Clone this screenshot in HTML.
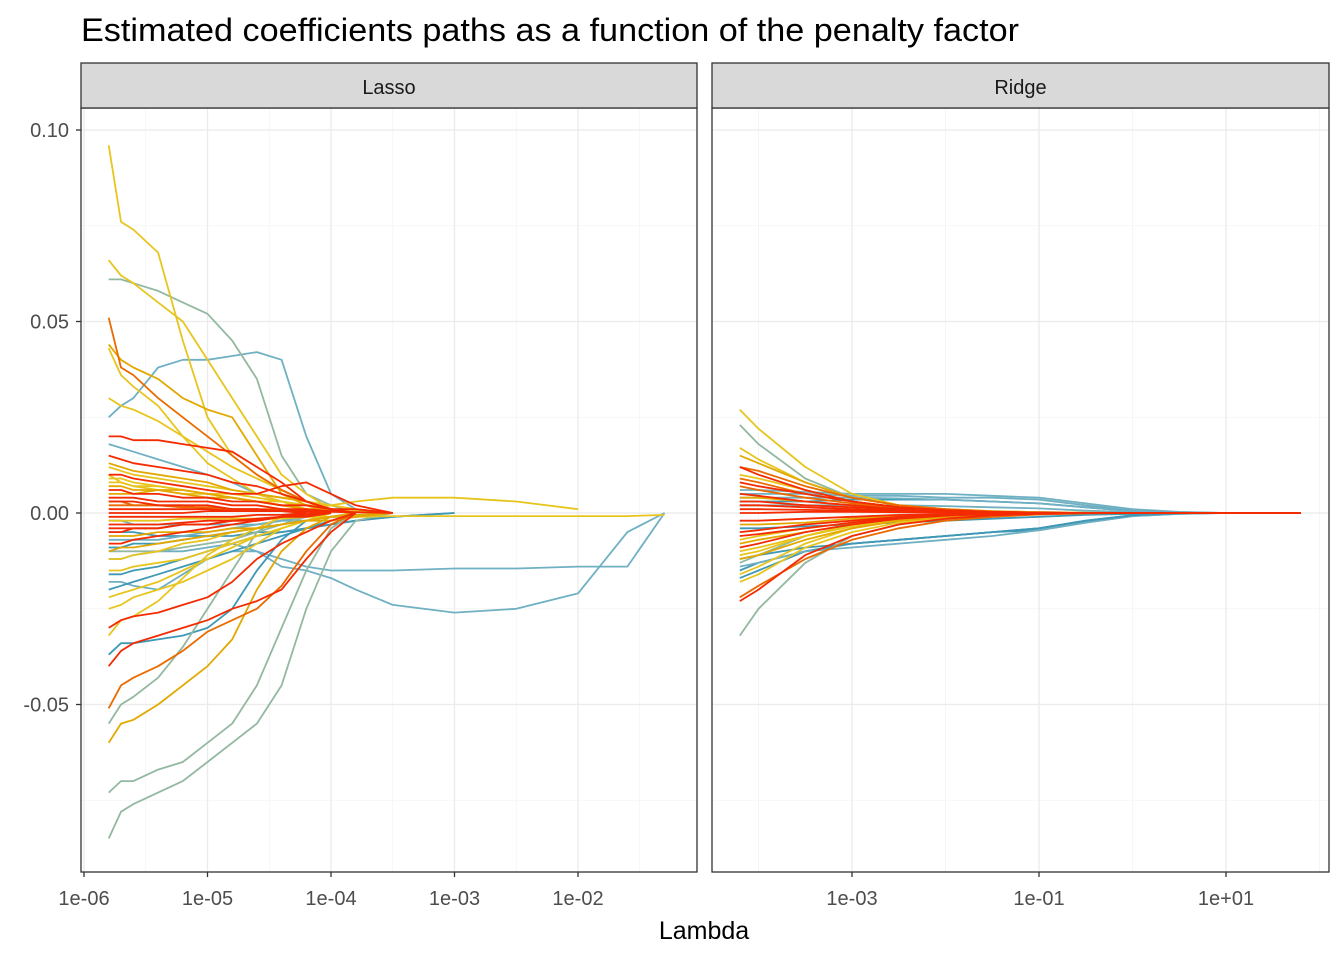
<!DOCTYPE html>
<html><head><meta charset="utf-8"><style>
body{margin:0;background:#fff;font-family:"Liberation Sans",Arial,sans-serif}
svg{display:block}
</style></head><body>
<svg id="chart" width="1344" height="960" xmlns="http://www.w3.org/2000/svg">
<rect width="1344" height="960" fill="#fff"/>
<text x="81" y="41" font-size="32" textLength="938" lengthAdjust="spacingAndGlyphs" fill="#000">Estimated coefficients paths as a function of the penalty factor</text>
<g id="lasso"></g>
<g id="ridge"></g>
<text x="704" y="939" font-size="25" text-anchor="middle" fill="#000">Lambda</text>
</svg>
<script>
// ---- data ----
const lassoLogLambda=[-5.8,-5.7,-5.6,-5.4,-5.2,-5,-4.8,-4.6,-4.4,-4.2,-4,-3.8,-3.5,-3,-2.5,-2,-1.6,-1.3];
const ridgeLogLambda=[-4.2,-4,-3.5,-3,-2.5,-2,-1.5,-1,-0.5,0,0.5,1,1.4,1.8];
const yTicks=[0.10,0.05,0.00,-0.05];
const yTickLabels=["0.10","0.05","0.00","-0.05"];
const lassoXTicks=[-6,-5,-4,-3,-2];
const lassoXLabels=["1e-06","1e-05","1e-04","1e-03","1e-02"];
const ridgeXTicks=[-3,-1,1];
const ridgeXLabels=["1e-03","1e-01","1e+01"];
// colour codes: B blue, L light blue, G grey-green, Y yellow, O gold, R orange, X red
const lassoColors=["Y","Y","G","L","R","L","L","Y","Y","G","G","O","R","X","B","Y","G","Y","O",
"X","X","X","X","X","X","X","X","Y","Y","O","O","Y","B","B","L","G","Y","O","R","Y","B","Y","X","X","L","O",
"X","X","X","Y","Y","O","L","B","X","R"];
// values in thousandths
const lassoValues=[
[96,76,74,68,45,25,15,10,6,3,1,0],
[66,62,60,55,50,40,30,20,10,5,1,0],
[61,61,60,58,55,52,45,35,15,5,2,0],
[25,28,30,38,40,40,41,42,40,20,5,1,0],
[51,38,36,30,25,20,15,10,6,3,1,0],
[-12,-12,-11,-10,-10,-9,-8,-10,-12,-14,-15,-15,-15,-14.5,-14.5,-14,-14,0],
[-18,-18,-19,-20,-16,-12,-10,-10,-14,-15,-17,-20,-24,-26,-25,-21,-5,0],
[10,8,7,6,5,5,4,3,3,2,2,3,4,4,3,1],
[-2,-2,-2,-2,-1.5,-1.5,-1.5,-1.5,-1.5,-1,-1,-1,-0.8,-0.8,-0.8,-0.8,-0.8,-0.5],
[-85,-78,-76,-73,-70,-65,-60,-55,-45,-25,-10,-2,0],
[-73,-70,-70,-67,-65,-60,-55,-45,-30,-15,-4,0],
[-60,-55,-54,-50,-45,-40,-33,-20,-10,-4,-1,0],
[-51,-45,-43,-40,-36,-31,-28,-25,-19,-10,-3,0],
[-40,-36,-34,-32,-30,-28,-25,-23,-20,-12,-5,0],
[-37,-34,-34,-33,-32,-30,-25,-15,-7,-2,0],
[-32,-28,-27,-23,-17,-11,-7,-4,-1,0],
[-55,-50,-48,-43,-35,-25,-15,-5,-1,0],
[43,36,33,28,20,13,9,5,3,1,0],
[44,40,38,35,30,27,25,15,5,2,0],
[20,20,19,19,18,17,16,12,8,3,1,0],
[15,14,13,12,11,10,8,7,5,3,1,0],
[10,10,9,8,7,6,5,5,7,8,5,2,0],
[6,6,5,5,4,4,3,3,2,2,1,1,0],
[0,0,0,0,0,0.5,0.5,0.5,0.5,0.5,0.3,0.2,0],
[-3,-3,-3,-3,-2.5,-2,-2,-1.5,-1,-0.5,0],
[-8,-8,-7,-6,-5,-4,-3,-2,-1,-0.5,0],
[-30,-28,-27,-26,-24,-22,-18,-12,-8,-5,-2,0],
[12,11,10,9,8,7,6,5,4,3,2,1,0],
[-15,-15,-14,-13,-12,-10,-8,-6,-4,-2,-1,0],
[-6,-6,-6,-5,-5,-5,-4,-4,-3,-2,-2,-1,0],
[5,5,5,6,6,5,4,3,2,1,1,0],
[30,28,27,24,20,16,12,9,6,3,1,0],
[-5,-5,-5,-6,-6,-6,-6,-5,-5,-4,-3,-2,-1,0],
[-20,-19,-18,-16,-14,-12,-10,-8,-6,-4,-2,-1,0],
[18,17,16,14,12,10,8,5,3,2,1,0],
[-10,-10,-10,-10,-9,-8,-7,-5,-3,-1,0],
[-22,-21,-20,-18,-15,-12,-9,-6,-4,-2,-1,0],
[-10,-9,-9,-8,-7,-6,-5,-4,-3,-2,-1,-0.5,0],
[2,2,2,2,1.5,1.5,1,1,1,0.5,0.5,0],
[8,8,7,7,6,5,5,4,3,2,1,0.5,0],
[-16,-16,-15,-14,-12,-10,-8,-6,-5,-4,-3,-2,-1,0],
[-25,-24,-22,-20,-18,-15,-12,-8,-4,-2,0],
[3,3,3,2,2,2,1,1,0.5,0.5,0],
[-1,-1,-1,-1,-1,-1,-1,-0.5,-0.5,0],
[-2,-2,-3,-3,-3,-3,-3,-3,-2,-2,-1,-1,0],
[13,12,11,10,9,8,6,5,4,3,1,0],
[4,4,4,3,3,3,2,2,1,1,0.5,0],
[-4,-4,-4,-4,-3,-3,-2,-2,-1,-1,0],
[1,1,1,1,1,1,0.5,0.5,0.5,0,0],
[9,9,8,7,6,5,4,3,2,1,0],
[-12,-12,-11,-10,-8,-7,-5,-4,-3,-2,-1,0],
[7,7,6,6,5,4,4,3,2,1,0.5,0],
[-7,-7,-7,-7,-6,-5,-4,-3,-2,-1,0],
[-9,-9,-8,-8,-7,-6,-5,-4,-3,-2,-1,0],
[-5,-5,-4,-4,-3,-3,-2,-2,-1,0],
[3,3,2,2,2,1,1,1,0.5,0],
];
const ridgeColors=["Y","G","G","X","R","B","B","L","L","L","B","Y","Y","O","O","Y","R","X","X","X","X","X","X","X","O","Y","B","L","R","X",
"Y","Y","O","O","X","X","R","L","B","G","Y","X"];
const ridgeValues=[
[27,22,12,5,2,1,0.5,0.2,0.1,0,0,0,0,0],
[23,18,9,4,2,1,0.5,0.2,0.1,0,0,0,0,0],
[-32,-25,-13,-6,-3,-1.5,-0.7,-0.3,-0.1,0,0,0,0,0],
[-23,-20,-11,-6,-3,-1.5,-0.6,-0.2,0,0,0,0,0,0],
[-22,-19,-12,-7,-4,-2,-1,-0.4,-0.1,0,0,0,0,0],
[-17,-15,-10,-8,-7,-6,-5,-4,-2,-0.6,-0.1,0,0,0],
[-15,-13,-10,-8,-7,-6,-5,-4.5,-2.5,-0.8,-0.2,0,0,0],
[-14,-13,-10,-9,-8,-7,-6,-4.5,-2.5,-0.8,-0.2,0,0,0],
[6,6,5.5,5,5,5,4.5,4,2.5,1,0.3,0,0,0],
[5,5,5,4.5,4.5,4,4,3.5,2,0.7,0.2,0,0,0],
[3,3,3,3.5,3.5,3.5,3,2.5,1.5,0.5,0.1,0,0,0],
[17,14,8,4,2,1,0.5,0.2,0,0,0,0,0,0],
[-16,-14,-8,-4,-2,-1,-0.5,-0.2,0,0,0,0,0,0],
[15,13,8,4,2,1,0.4,0.1,0,0,0,0,0,0],
[-12,-11,-7,-4,-2,-1,-0.4,-0.1,0,0,0,0,0,0],
[-18,-16,-9,-5,-2.5,-1.2,-0.5,-0.2,0,0,0,0,0,0],
[12,11,7,4,2,1,0.4,0.1,0,0,0,0,0,0],
[12,10,6,3,1.5,0.7,0.3,0.1,0,0,0,0,0,0],
[8,7,5,3,1.5,0.7,0.3,0.1,0,0,0,0,0,0],
[5,4.5,3,2,1,0.5,0.2,0.1,0,0,0,0,0,0],
[2,2,1.5,1,0.5,0.3,0.1,0,0,0,0,0,0,0],
[-2,-2,-1.5,-1,-0.5,-0.3,-0.1,0,0,0,0,0,0,0],
[-5,-4.5,-3,-2,-1,-0.5,-0.2,0,0,0,0,0,0,0],
[-9,-8,-5,-3,-1.5,-0.7,-0.3,-0.1,0,0,0,0,0,0],
[-8,-7,-5,-3,-1.5,-0.8,-0.3,-0.1,0,0,0,0,0,0],
[-11,-10,-6,-3,-1.5,-0.7,-0.3,-0.1,0,0,0,0,0,0],
[-4,-4,-3.5,-3,-2.5,-2,-1.5,-1,-0.5,-0.2,0,0,0,0],
[2,2,2,2,2,1.8,1.5,1.2,0.6,0.2,0,0,0,0],
[9,8,5,3,1.5,0.7,0.3,0.1,0,0,0,0,0,0],
[0,0,0.3,0.3,0.2,0.1,0,0,0,0,0,0,0,0],
[10,9,6,3,1.5,0.7,0.3,0.1,0,0,0,0,0,0],
[-7,-6,-4,-2.5,-1.2,-0.6,-0.2,0,0,0,0,0,0,0],
[4,4,3,2,1,0.5,0.2,0,0,0,0,0,0,0],
[-3,-3,-2.5,-1.5,-0.8,-0.4,-0.1,0,0,0,0,0,0,0],
[3,3,2,1.5,0.8,0.4,0.1,0,0,0,0,0,0,0],
[-6,-5.5,-4,-2.5,-1.2,-0.5,-0.2,0,0,0,0,0,0,0],
[7,6,4,2.5,1.2,0.6,0.2,0,0,0,0,0,0,0],
[4,4,4,4,3.8,3.5,3,2.5,1.5,0.5,0.1,0,0,0],
[-12,-11,-9,-8,-7,-6,-5,-4,-2,-0.6,-0.1,0,0,0],
[-13,-11,-6,-3,-1.5,-0.7,-0.3,0,0,0,0,0,0,0],
[-10,-9,-6,-3.5,-1.8,-0.9,-0.4,-0.1,0,0,0,0,0,0],
[1,1,0.8,0.6,0.4,0.2,0.1,0,0,0,0,0,0,0]
];
// ---- drawing ----
const NS="http://www.w3.org/2000/svg";
const palette={B:"#3f98b5",L:"#6fb0c2",G:"#93b8a0",Y:"#e8c51e",O:"#e3a800",R:"#ea6a00",X:"#f42a00"};
const order={B:0,L:0,G:1,Y:2,O:3,R:4,X:5};
const TOP=108,BOT=872;
function yScale(v){return 513-v*3830;}
function xLasso(l){return 84+(l+6)*123.5;}
function xRidge(l){return 852+(l+3)*93.5;}
function mk(tag,attrs,parent){const e=document.createElementNS(NS,tag);for(const k in attrs)e.setAttribute(k,attrs[k]);parent.appendChild(e);return e;}
function panel(g,x0,x1,xScale,xTicks,xLabels,minorTicks,grid,vals,cols,name,label){
  mk("rect",{x:x0,y:TOP,width:x1-x0,height:BOT-TOP,fill:"#fff"},g);
  [0.075,0.025,-0.025,-0.075].forEach(t=>{const y=yScale(t);
    mk("line",{x1:x0,x2:x1,y1:y,y2:y,stroke:"#f3f3f3","stroke-width":0.8},g);});
  minorTicks.forEach(t=>{const x=xScale(t);if(x>x0&&x<x1)mk("line",{x1:x,x2:x,y1:TOP,y2:BOT,stroke:"#f3f3f3","stroke-width":0.8},g);});
  yTicks.forEach(t=>{const y=yScale(t);
    const l=mk("line",{x1:x0,x2:x1,y1:y,y2:y,stroke:"#ebebeb","stroke-width":1.3},g);
    });
  xTicks.forEach(t=>{const x=xScale(t);
    const l=mk("line",{x1:x,x2:x,y1:TOP,y2:BOT,stroke:"#ebebeb","stroke-width":1.3},g);
    });
  const idx=vals.map((v,i)=>i).sort((a,b)=>order[cols[a]]-order[cols[b]]);
  idx.forEach(i=>{const v=vals[i];let d="";
    v.forEach((val,j)=>{d+=(j?"L":"M")+xScale(grid[j]).toFixed(1)+","+yScale(val/1000).toFixed(1);});
    const p=mk("path",{d:d,fill:"none",stroke:palette[cols[i]],"stroke-width":1.8,"stroke-linejoin":"round"},g);
    
    });
  mk("rect",{x:x0,y:TOP,width:x1-x0,height:BOT-TOP,fill:"none",stroke:"#333","stroke-width":1.3},g);
  const s=mk("rect",{x:x0,y:63,width:x1-x0,height:45,fill:"#d9d9d9",stroke:"#333","stroke-width":1.3},g);
  
  const st=mk("text",{x:(x0+x1)/2,y:94,"font-size":20,"text-anchor":"middle",fill:"#1a1a1a"},g);st.textContent=label;
  
  xTicks.forEach((t,i)=>{const x=xScale(t);
    mk("line",{x1:x,x2:x,y1:BOT,y2:BOT+5,stroke:"#333","stroke-width":1.3},g);
    const tx=mk("text",{x:x,y:905,"font-size":20,"text-anchor":"middle",fill:"#4d4d4d"},g);tx.textContent=xLabels[i];
    });
}
const lg=document.getElementById("lasso"),rg=document.getElementById("ridge");
panel(lg,81,697,xLasso,lassoXTicks,lassoXLabels,[-5.5,-4.5,-3.5,-2.5,-1.5],lassoLogLambda,lassoValues,lassoColors,"lasso","Lasso");
panel(rg,712,1329,xRidge,ridgeXTicks,ridgeXLabels,[-4,-2,0,2],ridgeLogLambda,ridgeValues,ridgeColors,"ridge","Ridge");
yTicks.forEach((t,i)=>{const y=yScale(t);
  mk("line",{x1:76,x2:81,y1:y,y2:y,stroke:"#333","stroke-width":1.3},lg);
  const tx=mk("text",{x:69,y:y+7,"font-size":20,"text-anchor":"end",fill:"#4d4d4d"},lg);tx.textContent=yTickLabels[i];
  });
</script>
</body></html>
